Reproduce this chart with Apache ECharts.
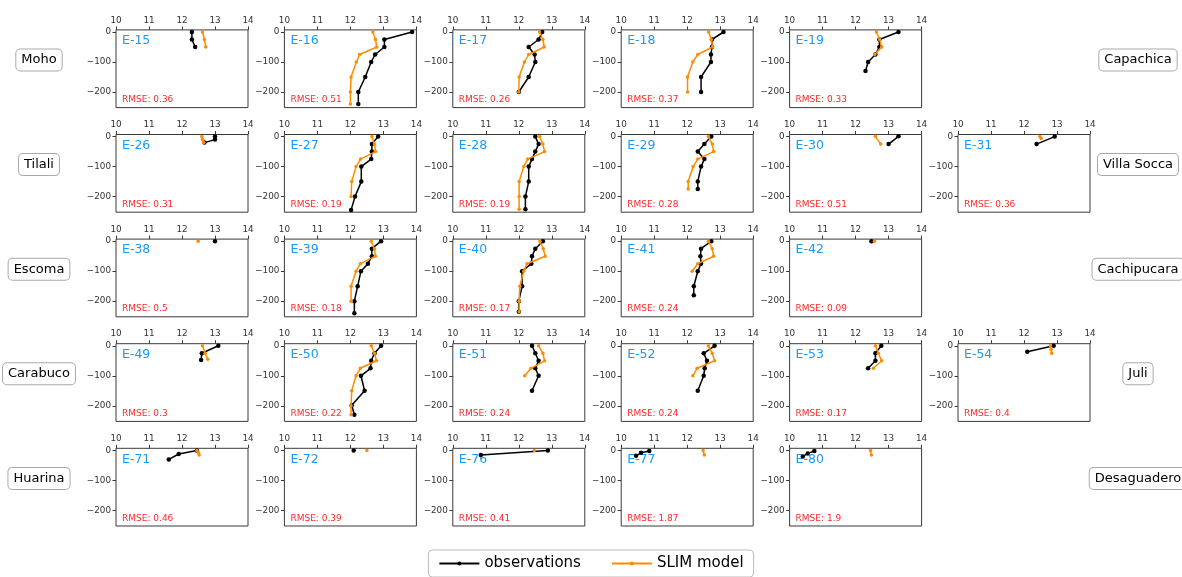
<!DOCTYPE html>
<html>
<head>
<meta charset="utf-8">
<script src="https://cdn.jsdelivr.net/npm/echarts@6.0.0/dist/echarts.min.js"></script>
<style>
  html, body { margin: 0; padding: 0; background: #fff; }
  #chart { width: 1182px; height: 577px; }
</style>
</head>
<body>
<div id="chart"></div>
<script>
// temperature profiles, [temperature, depth]
const xTicks = [10, 11, 12, 13, 14];
const yTicks = [0, -100, -200];

const stationLeft = ['Moho', 'Tilali', 'Escoma', 'Carabuco', 'Huarina'];
const stationRight = ['Capachica', 'Villa Socca', 'Cachipucara', 'Juli', 'Desaguadero'];

const panelRows = [
  ['E-15', 'E-16', 'E-17', 'E-18', 'E-19'],
  ['E-26', 'E-27', 'E-28', 'E-29', 'E-30', 'E-31'],
  ['E-38', 'E-39', 'E-40', 'E-41', 'E-42'],
  ['E-49', 'E-50', 'E-51', 'E-52', 'E-53', 'E-54'],
  ['E-71', 'E-72', 'E-76', 'E-77', 'E-80']
];
const rmseRows = [
  [0.36, 0.51, 0.26, 0.37, 0.33],
  [0.31, 0.19, 0.19, 0.28, 0.51, 0.36],
  [0.5, 0.18, 0.17, 0.24, 0.09],
  [0.3, 0.22, 0.24, 0.24, 0.17, 0.4],
  [0.46, 0.39, 0.41, 1.87, 1.9]
];

const obs15 = [[12.3, 0], [12.3, -25], [12.4, -50]];
const mod15 = [[12.62, 0], [12.68, -25], [12.72, -50]];
const obs16 = [[13.87, 0], [13.03, -25], [13.03, -50], [12.75, -75], [12.63, -100], [12.45, -150], [12.24, -200], [12.24, -240]];
const mod16 = [[12.68, 0], [12.76, -25], [12.8, -50], [12.28, -75], [12.18, -100], [12.02, -150], [12.0, -200], [12.0, -240]];
const obs17 = [[12.71, 0], [12.6, -25], [12.3, -50], [12.48, -75], [12.5, -100], [12.3, -150], [12.0, -200]];
const mod17 = [[12.63, 0], [12.73, -25], [12.77, -50], [12.3, -75], [12.17, -100], [12.01, -150], [12.0, -200]];
const obs18 = [[13.1, 0], [12.75, -25], [12.75, -50], [12.72, -75], [12.72, -100], [12.42, -150], [12.42, -200]];
const mod18 = [[12.65, 0], [12.73, -25], [12.77, -50], [12.32, -75], [12.17, -100], [12.01, -150], [12.01, -200]];
const obs19 = [[13.3, 0], [12.72, -25], [12.72, -50], [12.6, -75], [12.38, -100], [12.3, -130]];
const mod19 = [[12.63, 0], [12.73, -25], [12.79, -50], [12.58, -75]];

const obs26 = [[13.0, 0], [13.0, -10], [12.68, -20]];
const mod26 = [[12.6, 0], [12.62, -10], [12.66, -20]];
const obs27 = [[12.84, 0], [12.65, -25], [12.65, -50], [12.63, -75], [12.33, -100], [12.33, -150], [12.14, -200], [12.02, -245]];
const mod27 = [[12.65, 0], [12.73, -25], [12.76, -50], [12.31, -75], [12.17, -100], [12.04, -150], [12.02, -200]];
const obs28 = [[12.5, 0], [12.6, -25], [12.5, -50], [12.4, -75], [12.3, -100], [12.3, -150], [12.2, -200], [12.2, -242]];
const mod28 = [[12.63, 0], [12.73, -25], [12.78, -50], [12.27, -75], [12.15, -100], [12.01, -150], [12.01, -200], [12.01, -242]];
const obs29 = [[12.73, 0], [12.52, -25], [12.32, -50], [12.52, -75], [12.42, -100], [12.32, -150], [12.32, -175]];
const mod29 = [[12.64, 0], [12.76, -25], [12.8, -50], [12.32, -75], [12.18, -100], [12.03, -150], [12.03, -175]];
const obs30 = [[13.3, 1], [13.0, -25]];
const mod30 = [[12.6, 1], [12.76, -25]];
const obs31 = [[12.93, 0], [12.38, -25]];
const mod31 = [[12.48, 0], [12.52, -6]];

const obs38 = [[13.0, 0]];
const mod38 = [[12.49, 0]];
const obs39 = [[12.93, 0], [12.65, -25], [12.65, -50], [12.53, -75], [12.32, -100], [12.22, -150], [12.12, -200], [12.12, -240]];
const mod39 = [[12.63, 0], [12.73, -25], [12.76, -50], [12.3, -75], [12.17, -100], [12.02, -150], [12.02, -200]];
const obs40 = [[12.73, 0], [12.5, -25], [12.4, -50], [12.38, -75], [12.1, -100], [12.1, -150], [12.0, -200], [12.0, -235]];
const mod40 = [[12.64, 0], [12.74, -25], [12.8, -50], [12.25, -75], [12.15, -100], [12.03, -150], [12.01, -200], [12.01, -235]];
const obs41 = [[12.73, 0], [12.42, -25], [12.4, -50], [12.42, -75], [12.32, -100], [12.2, -150], [12.2, -180]];
const mod41 = [[12.64, 0], [12.76, -25], [12.8, -50], [12.32, -75], [12.15, -100]];
const obs42 = [[12.48, 0]];
const mod42 = [[12.57, 0]];

const obs49 = [[13.1, 0], [12.6, -25], [12.58, -47]];
const mod49 = [[12.62, 0], [12.7, -25], [12.78, -45]];
const obs50 = [[12.93, 0], [12.73, -25], [12.63, -50], [12.61, -75], [12.32, -100], [12.43, -150], [12.04, -198], [12.12, -230]];
const mod50 = [[12.63, 0], [12.73, -25], [12.79, -50], [12.3, -75], [12.17, -100], [12.04, -150], [12.02, -200], [12.02, -230]];
const obs51 = [[12.4, 0], [12.5, -25], [12.6, -50], [12.5, -75], [12.6, -100], [12.4, -150]];
const mod51 = [[12.6, 0], [12.73, -25], [12.78, -50], [12.37, -75], [12.18, -100]];
const obs52 = [[12.83, 0], [12.5, -25], [12.6, -50], [12.53, -75], [12.5, -100], [12.32, -150]];
const mod52 = [[12.64, 0], [12.76, -25], [12.83, -50], [12.3, -75], [12.17, -100]];
const obs53 = [[12.78, 0], [12.6, -25], [12.6, -50], [12.38, -75]];
const mod53 = [[12.6, 0], [12.69, -25], [12.79, -50], [12.54, -75]];
const obs54 = [[12.9, 0], [12.1, -20]];
const mod54 = [[12.8, 0], [12.82, -12], [12.84, -25]];

const obs71 = [[12.45, 0], [11.9, -12], [11.6, -30]];
const mod71 = [[12.45, 0], [12.5, -8], [12.52, -15]];
const obs72 = [[12.1, 0]];
const mod72 = [[12.5, 0]];
const obs76 = [[12.88, 0], [10.85, -15]];
const mod76 = [[12.47, 0]];
const obs77 = [[10.85, -2], [10.6, -8], [10.45, -18]];
const mod77 = [[12.48, 0], [12.52, -15]];
const obs80 = [[10.75, -2], [10.55, -10], [10.4, -20]];
const mod80 = [[12.45, 0], [12.48, -15]];

const obsRows = [
  [obs15, obs16, obs17, obs18, obs19],
  [obs26, obs27, obs28, obs29, obs30, obs31],
  [obs38, obs39, obs40, obs41, obs42],
  [obs49, obs50, obs51, obs52, obs53, obs54],
  [obs71, obs72, obs76, obs77, obs80]
];
const modRows = [
  [mod15, mod16, mod17, mod18, mod19],
  [mod26, mod27, mod28, mod29, mod30, mod31],
  [mod38, mod39, mod40, mod41, mod42],
  [mod49, mod50, mod51, mod52, mod53, mod54],
  [mod71, mod72, mod76, mod77, mod80]
];

// layout
const FONT = '"DejaVu Sans", sans-serif';
const GX0 = 116, GDX = 168.4, GW = 132;
const GY0 = 29.9, GDY = 104.6, GH = 77.7;

let chart = echarts.init(document.getElementById('chart'), null, { renderer: 'canvas' });

let grids = [], xAxes = [], yAxes = [], series = [], graphics = [];

const minus = v => (v < 0 ? '\u2212' + Math.abs(v) : String(v));

panelRows.forEach((row, r) => {
  row.forEach((name, c) => {
    let i = grids.length;
    let left = GX0 + GDX * c;
    let top = GY0 + GDY * r;
    grids.push({
      left: left, top: top, width: GW, height: GH,
      show: true, borderColor: '#3a3a3a', borderWidth: 1, backgroundColor: 'transparent'
    });
    xAxes.push({
      gridIndex: i, type: 'value', position: 'top', min: 10, max: 14,
      axisLine: { show: false, onZero: false },
      axisTick: { show: true, length: 3.5, customValues: xTicks, lineStyle: { color: '#3a3a3a' } },
      axisLabel: { customValues: xTicks, margin: 5, fontSize: 8.8, color: '#333', fontFamily: FONT },
      splitLine: { show: false }
    });
    yAxes.push({
      gridIndex: i, type: 'value', min: -252, max: 7,
      axisLine: { show: false, onZero: false },
      axisTick: { show: true, length: 3.5, customValues: yTicks, lineStyle: { color: '#3a3a3a' } },
      axisLabel: { customValues: yTicks, margin: 5, fontSize: 8.8, color: '#333', fontFamily: FONT, formatter: minus },
      splitLine: { show: false }
    });
    series.push({
      name: 'observations', type: 'line', xAxisIndex: i, yAxisIndex: i,
      data: obsRows[r][c], symbol: 'circle', symbolSize: 4.5,
      lineStyle: { color: '#000', width: 1.5 }, itemStyle: { color: '#000' },
      z: 2, silent: true, animation: false
    });
    series.push({
      name: 'SLIM model', type: 'line', xAxisIndex: i, yAxisIndex: i,
      data: modRows[r][c], symbol: 'circle', symbolSize: 3.5,
      lineStyle: { color: '#ff8c00', width: 1.5 }, itemStyle: { color: '#ff8c00' },
      z: 3, silent: true, animation: false
    });
    graphics.push({
      type: 'text', x: left + 6, y: top + 11,
      style: { text: name, fill: '#1a9af5', font: '12.5px ' + FONT, verticalAlign: 'middle' }
    });
    graphics.push({
      type: 'text', x: left + 6, y: top + 70,
      style: { text: 'RMSE: ' + rmseRows[r][c], fill: '#ff2a2a', font: '9px ' + FONT, verticalAlign: 'middle' }
    });
  });
});

// station names either side
const boxStyle = {
  fill: '#000', font: '13px ' + FONT, align: 'center', verticalAlign: 'middle',
  backgroundColor: '#fff', borderColor: '#aaa', borderWidth: 1, borderRadius: 4, padding: [4, 5]
};
stationLeft.forEach((s, r) => {
  graphics.push({ type: 'text', x: 39, y: 60 + GDY * r, style: Object.assign({ text: s }, boxStyle) });
});
stationRight.forEach((s, r) => {
  graphics.push({ type: 'text', x: 1138, y: 60 + GDY * r, style: Object.assign({ text: s }, boxStyle) });
});

let option = {
  backgroundColor: '#fff',
  animation: false,
  grid: grids,
  xAxis: xAxes,
  yAxis: yAxes,
  series: series,
  graphic: graphics,
  legend: {
    data: ['observations', 'SLIM model'],
    left: 'center', top: 550,
    itemWidth: 40, itemHeight: 5, itemGap: 30,
    textStyle: { fontSize: 15, color: '#000', fontFamily: FONT },
    borderColor: '#bbb', borderWidth: 1, borderRadius: 4, padding: [6, 10]
  }
};
chart.setOption(option);
</script>
</body>
</html>
